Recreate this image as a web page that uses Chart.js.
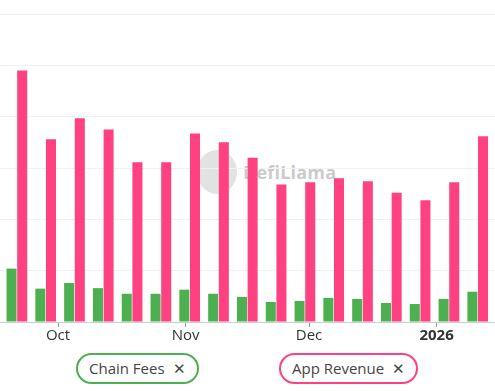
<!DOCTYPE html>
<html>
<head>
<meta charset="utf-8">
<script src="https://cdn.jsdelivr.net/npm/chart.js@4.4.1/dist/chart.umd.min.js"></script>
<style>
  html, body { margin: 0; padding: 0; background: #fff; }
  body { width: 495px; height: 391px; position: relative; overflow: hidden; font-family: "Open Sans", "Noto Sans", sans-serif; }
  #marca { position: absolute; left: 197px; top: 150px; width: 150px; height: 46px; opacity: 0.6; }
  #marca .logo { position: absolute; left: 0; top: 0; width: 40px; height: 44px; border-radius: 50%; background: #d0d0d0; }
  #marca .texto { position: absolute; left: 46px; top: 10px; font: bold 18px "Open Sans", sans-serif; color: #a9a9a9; letter-spacing: 0.2px; }
  #lienzo { position: absolute; left: 0; top: 0; width: 495px; height: 345px; }
  .leyenda { position: absolute; top: 353px; height: 27px; border: 2px solid; border-radius: 16px; font-size: 15px; color: #444; line-height: 27px; padding: 0 11px; box-sizing: content-box; }
  .leyenda span { margin-left: 8px; font-size: 15px; }
</style>
</head>
<body>
<div id="marca"><div class="logo"></div><div class="texto">DefiLlama</div></div>
<div id="lienzo"><canvas id="grafico"></canvas></div>
<div class="leyenda" style="left:76px; border-color:#4caf50;">Chain Fees<span>✕</span></div>
<div class="leyenda" style="left:279px; border-color:#ff4081;">App Revenue<span>✕</span></div>

<script>
// Semanas desde el 21 sep 2025 (días)
const DIAS = [0, 7, 14, 21, 28, 35, 42, 49, 56, 63, 70, 77, 84, 91, 98, 105, 112];
const CHAIN_FEES = [1.04, 0.65, 0.76, 0.66, 0.55, 0.55, 0.63, 0.55, 0.49, 0.39, 0.41, 0.47, 0.45, 0.37, 0.35, 0.45, 0.59];
const APP_REVENUE = [4.9, 3.56, 3.97, 3.75, 3.11, 3.11, 3.67, 3.5, 3.2, 2.68, 2.72, 2.8, 2.74, 2.52, 2.37, 2.72, 3.62];
const TICKS_X = [10, 41, 71, 102];
const ETIQUETAS_X = ['Oct', 'Nov', 'Dec', '2026'];

const VERDE = '#4caf50';
const ROSA = '#ff4081';

function puntos(valores) {
    return DIAS.map((d, i) => ({ x: d, y: valores[i] }));
}

const grafico = new Chart(document.getElementById('grafico'), {
    type: 'bar',
    data: {
        datasets: [{
            label: 'Chain Fees',
            data: puntos(CHAIN_FEES),
            backgroundColor: VERDE,
            categoryPercentage: 0.74,
            barPercentage: 0.94
        }, {
            label: 'App Revenue',
            data: puntos(APP_REVENUE),
            backgroundColor: ROSA,
            categoryPercentage: 0.74,
            barPercentage: 0.94
        }]
    },
    options: {
        responsive: true,
        maintainAspectRatio: false,
        animation: false,
        layout: { padding: { top: 14, left: 0, right: 0, bottom: 0 } },
        scales: {
            x: {
                type: 'linear',
                offset: false,
                min: -4.1,
                max: 116.2,
                afterBuildTicks: axis => {
                    axis.ticks = TICKS_X.map(v => ({ value: v }));
                },
                ticks: {
                    autoSkip: false,
                    maxRotation: 0,
                    padding: 0,
                    color: '#333',
                    font: ctx => ({
                        family: '"Open Sans", sans-serif',
                        size: 15,
                        weight: ctx.tick && ctx.tick.value === 102 ? 'bold' : 'normal'
                    }),
                    callback: v => ETIQUETAS_X[TICKS_X.indexOf(v)]
                },
                grid: {
                    display: true,
                    offset: false,
                    drawOnChartArea: false,
                    drawTicks: true,
                    tickLength: 5,
                    color: '#999'
                },
                border: { display: true, color: '#ccc' }
            },
            y: {
                min: 0,
                max: 6,
                ticks: { display: false, stepSize: 1 },
                grid: { color: '#f2f2f2', drawTicks: false },
                border: { display: false }
            }
        },
        plugins: {
            legend: { display: false },
            title: { display: false },
            tooltip: { enabled: false }
        }
    }
});
</script>
</body>
</html>
